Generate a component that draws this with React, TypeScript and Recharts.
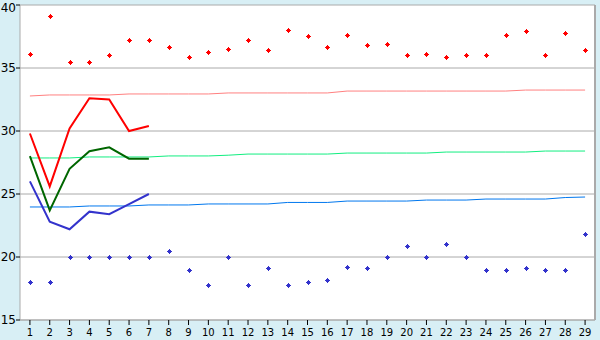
import { CartesianGrid, ComposedChart, Line, ReferenceLine, XAxis, YAxis } from "recharts";

const days = [1, 2, 3, 4, 5, 6, 7, 8, 9, 10, 11, 12, 13, 14, 15, 16, 17, 18, 19, 20, 21, 22, 23, 24, 25, 26, 27, 28, 29];
const yTicks = [15, 20, 25, 30, 35, 40];

// record highs / lows (diamonds)
const recordHigh = [36.1, 39.1, 35.5, 35.5, 36.0, 37.2, 37.2, 36.7, 35.9, 36.3, 36.5, 37.2, 36.4, 38.0, 37.5, 36.7, 37.6, 36.8, 36.9, 36.0, 36.1, 35.9, 36.0, 36.0, 37.6, 37.9, 36.0, 37.8, 36.4];
const recordLow = [18.0, 18.0, 20.0, 20.0, 20.0, 20.0, 20.0, 20.5, 19.0, 17.8, 20.0, 17.8, 19.1, 17.8, 18.0, 18.2, 19.2, 19.1, 20.0, 20.9, 20.0, 21.0, 20.0, 19.0, 19.0, 19.1, 19.0, 19.0, 21.8];

// long-term normals (thin lines)
const normalHigh = [32.78, 32.86, 32.86, 32.86, 32.86, 32.94, 32.94, 32.94, 32.94, 32.94, 33.02, 33.02, 33.02, 33.02, 33.02, 33.02, 33.17, 33.17, 33.17, 33.17, 33.17, 33.17, 33.17, 33.17, 33.17, 33.25, 33.25, 33.25, 33.25];
const normalMean = [27.86, 27.86, 27.86, 27.94, 27.94, 27.94, 27.94, 28.02, 28.02, 28.02, 28.08, 28.17, 28.17, 28.17, 28.17, 28.17, 28.25, 28.25, 28.25, 28.25, 28.25, 28.33, 28.33, 28.33, 28.33, 28.33, 28.41, 28.41, 28.41];
const normalLow = [23.97, 23.97, 23.97, 24.05, 24.05, 24.05, 24.13, 24.13, 24.13, 24.21, 24.21, 24.21, 24.21, 24.33, 24.33, 24.33, 24.44, 24.44, 24.44, 24.44, 24.52, 24.52, 24.52, 24.6, 24.6, 24.6, 24.6, 24.72, 24.76];

// observed this month (thick lines)
const obsHigh = [29.8, 25.6, 30.2, 32.6, 32.5, 30.0, 30.4];
const obsMean = [28.0, 23.7, 27.0, 28.4, 28.7, 27.8, 27.8];
const obsLow = [26.0, 22.8, 22.2, 23.6, 23.4, 24.2, 25.0];

const data = days.map((day, i) => ({
  day,
  recordHigh: recordHigh[i],
  recordLow: recordLow[i],
  normalHigh: normalHigh[i],
  normalMean: normalMean[i],
  normalLow: normalLow[i],
  obsHigh: obsHigh[i] ?? null,
  obsMean: obsMean[i] ?? null,
  obsLow: obsLow[i] ?? null,
}));

function diamond(color: string) {
  return (props: any) => {
    const { cx, cy, index } = props;
    if (cx == null || cy == null) return <g key={index} />;
    const x = Math.round(cx);
    const y = Math.round(cy);
    return (
      <g key={index} shapeRendering="crispEdges" fill={color}>
        <rect x={x - 0.5} y={y - 2.5} width={1} height={5} />
        <rect x={x - 2.5} y={y - 0.5} width={5} height={1} />
        <rect x={x - 1.5} y={y - 1.5} width={3} height={3} />
      </g>
    );
  };
}

export default function App() {
  return (
    <div style={{ position: "absolute", left: 0, top: 0, width: 600, height: 340, background: "#d8eff5" }}>
      <ComposedChart width={600} height={340} data={data} margin={{ top: 5, right: 5, left: 0, bottom: 0 }}>
        <CartesianGrid fill="#ffffff" stroke="#aaaaaa" vertical={false} />
        <XAxis
          dataKey="day"
          type="number"
          domain={[0.5, 29.5]}
          ticks={days}
          interval={0}
          height={20}
          tickSize={5}
          tickMargin={4}
          axisLine={{ stroke: "#aaaaaa" }}
          tickLine={{ stroke: "#000000" }}
          tick={{ fontSize: 10, fill: "#000000", fontFamily: "DejaVu Sans" }}
        />
        <YAxis
          type="number"
          domain={[15, 40]}
          ticks={yTicks}
          width={20}
          tickSize={4}
          tickMargin={0}
          axisLine={{ stroke: "#aaaaaa" }}
          tickLine={{ stroke: "#000000" }}
          tick={{ fontSize: 12, fill: "#000000", fontFamily: "DejaVu Sans" }}
        />
        <ReferenceLine x={29.5} stroke="#aaaaaa" strokeWidth={2} />
        <Line dataKey="normalHigh" stroke="#ff8080" strokeWidth={1} dot={false} activeDot={false} isAnimationActive={false} />
        <Line dataKey="normalMean" stroke="#11ee80" strokeWidth={1} dot={false} activeDot={false} isAnimationActive={false} />
        <Line dataKey="normalLow" stroke="#0077ee" strokeWidth={1} dot={false} activeDot={false} isAnimationActive={false} />
        <Line dataKey="obsHigh" stroke="#ff0000" strokeWidth={2} dot={false} activeDot={false} isAnimationActive={false} />
        <Line dataKey="obsMean" stroke="#006600" strokeWidth={2} dot={false} activeDot={false} isAnimationActive={false} />
        <Line dataKey="obsLow" stroke="#3333cc" strokeWidth={2} dot={false} activeDot={false} isAnimationActive={false} />
        <Line dataKey="recordHigh" stroke="none" dot={diamond("#ff0000")} activeDot={false} isAnimationActive={false} />
        <Line dataKey="recordLow" stroke="none" dot={diamond("#3333cc")} activeDot={false} isAnimationActive={false} />
      </ComposedChart>
    </div>
  );
}
